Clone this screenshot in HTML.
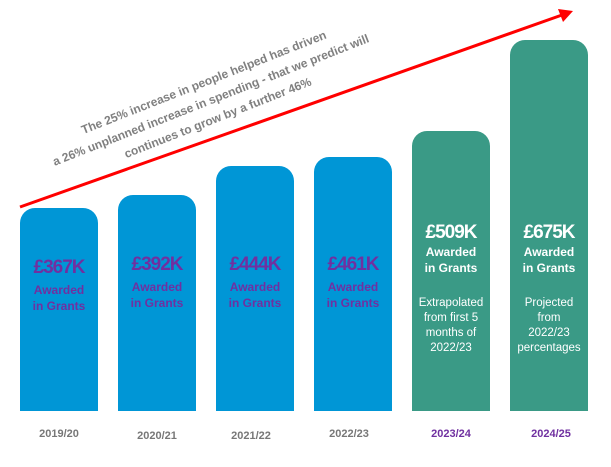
<!DOCTYPE html>
<html><head><meta charset="utf-8"><style>
body{margin:0;width:611px;height:467px;background:#fff;position:relative;overflow:hidden;font-family:"Liberation Sans",sans-serif}
.b{position:absolute;width:78px;bottom:56px;border-radius:15px 15px 0 0;text-align:center}
.blue{background:#0096d6;color:#7030a0}
.green{background:#3a9a86;color:#fff}
.v{position:absolute;left:0;right:0;font-weight:bold;font-size:19px;letter-spacing:-1px}
.a{position:absolute;left:0;right:0;font-weight:bold;font-size:12px;line-height:16px}
.n{position:absolute;left:0;right:0;font-size:11.5px;line-height:15px}
.y{position:absolute;top:428px;width:78px;text-align:center;font-size:11px;font-weight:bold;color:#777}
.txt{position:absolute;left:-39px;top:72px;width:500px;white-space:nowrap;text-align:center;font-weight:bold;font-size:12px;line-height:19px;color:#808080;transform:rotate(-21.5deg);transform-origin:center}
</style></head><body>
<svg width="611" height="467" style="position:absolute;left:0;top:0">
<line x1="20" y1="207" x2="562" y2="15" stroke="#f00" stroke-width="3"/>
<polygon points="573,11 558,9 563,22" fill="#f00"/>
</svg>
<div class="txt">The 25% increase in people helped has driven<br>a 26% unplanned increase in spending - that we predict will<br>continues to grow by a further 46%</div>
<div class="b blue" style="left:20px;top:208px"><div class="v" style="top:49px">£367K</div><div class="a" style="top:74px">Awarded<br>in Grants</div></div>
<div class="b blue" style="left:118px;top:195px"><div class="v" style="top:59px">£392K</div><div class="a" style="top:84px">Awarded<br>in Grants</div></div>
<div class="b blue" style="left:216px;top:166px"><div class="v" style="top:88px">£444K</div><div class="a" style="top:113px">Awarded<br>in Grants</div></div>
<div class="b blue" style="left:314px;top:157px"><div class="v" style="top:97px">£461K</div><div class="a" style="top:122px">Awarded<br>in Grants</div></div>
<div class="b green" style="left:412px;top:131px"><div class="v" style="top:91px">£509K</div><div class="a" style="top:113px">Awarded<br>in Grants</div><div class="n" style="top:165px">Extrapolated<br>from first 5<br>months of<br>2022/23</div></div>
<div class="b green" style="left:510px;top:40px"><div class="v" style="top:182px">£675K</div><div class="a" style="top:204px">Awarded<br>in Grants</div><div class="n" style="top:256px">Projected<br>from<br>2022/23<br>percentages</div></div>
<div class="y" style="left:20px">2019/20</div>
<div class="y" style="left:118px;top:430px">2020/21</div>
<div class="y" style="left:212px;top:430px">2021/22</div>
<div class="y" style="left:310px">2022/23</div>
<div class="y" style="left:412px;color:#7030a0">2023/24</div>
<div class="y" style="left:512px;color:#7030a0">2024/25</div>
</body></html>
